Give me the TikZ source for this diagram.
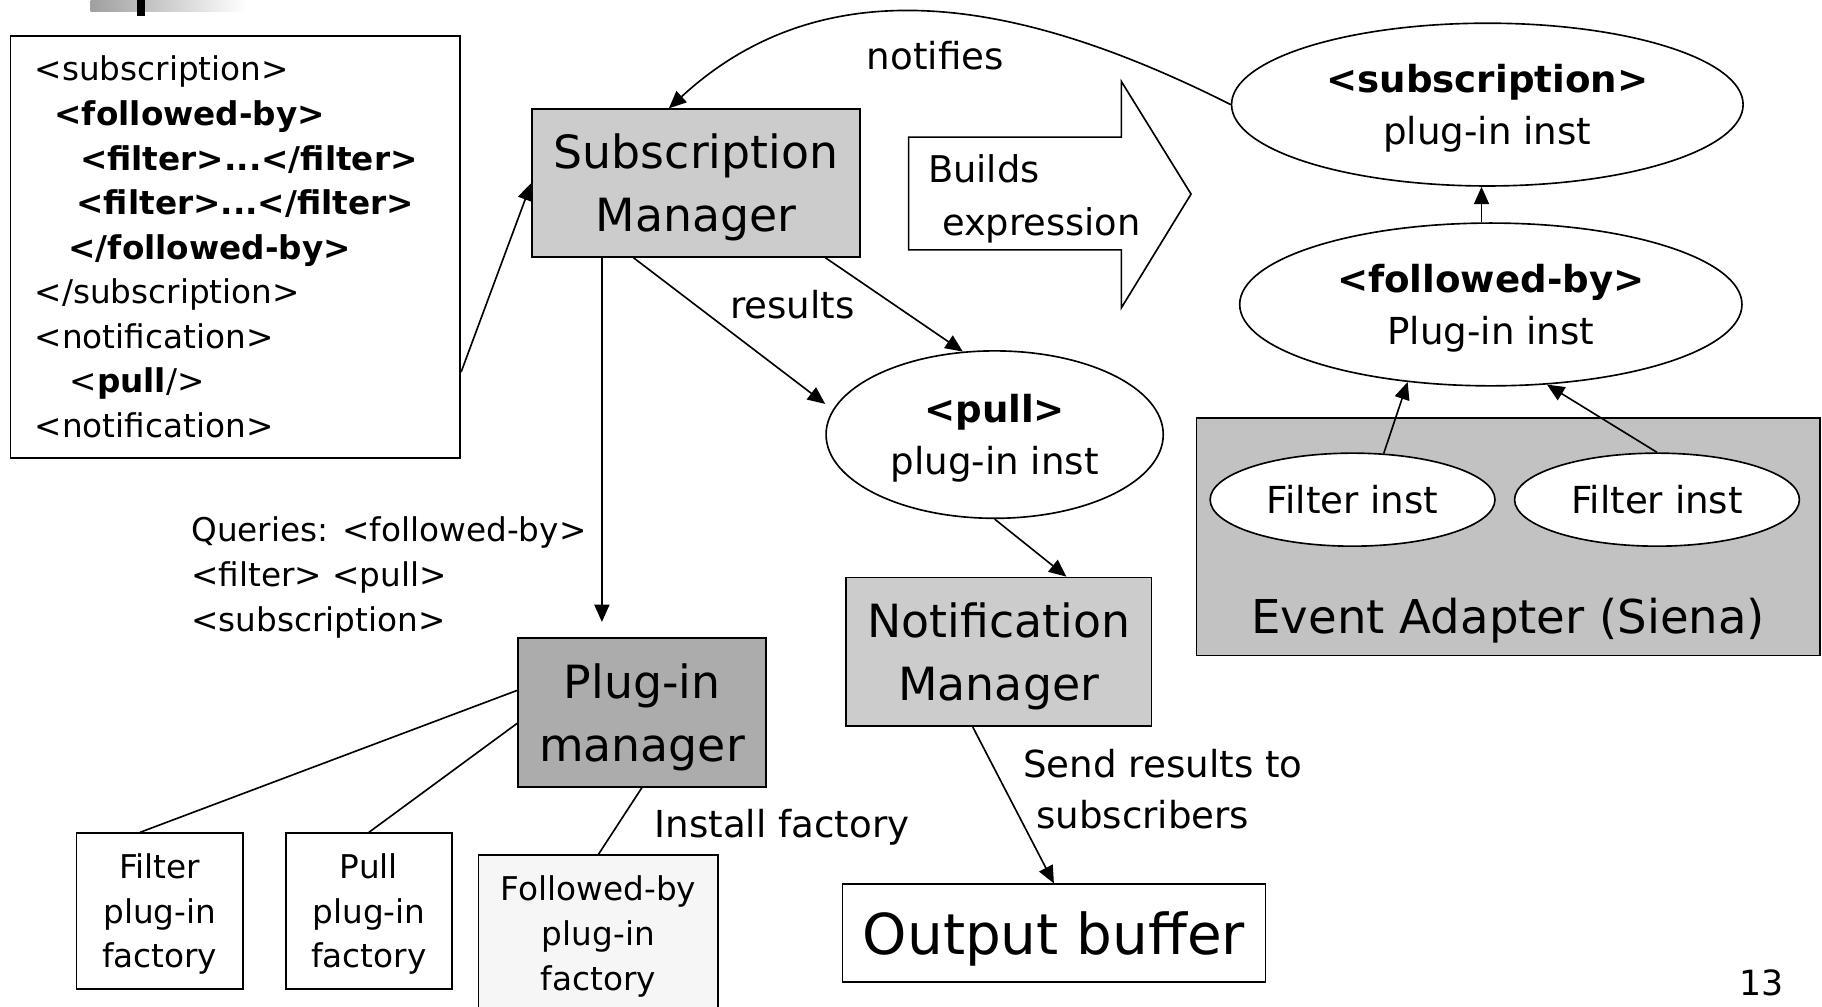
\documentclass[tikz,border=0pt]{standalone}
\usepackage{fontspec}
\setmainfont{DejaVu Sans}
\usetikzlibrary{shapes.geometric,arrows.meta,positioning}
\definecolor{mgrgray}{RGB}{204,204,204}
\definecolor{pmgray}{RGB}{172,172,172}
\definecolor{eagray}{RGB}{194,194,194}
\definecolor{factgray}{RGB}{246,246,246}
\newcommand{\hugetxt}{\fontsize{13.8}{16}\selectfont}
\newcommand{\bigtxt}{\fontsize{11.2}{15.4}\selectfont}
\newcommand{\midtxt}{\fontsize{9.1}{12.6}\selectfont}
\newcommand{\smalltxt}{\fontsize{8}{10.9}\selectfont}

\begin{document}
\begin{tikzpicture}[x=0.01cm, y=-0.01cm, line width=0.4pt,
  >={Triangle[length=0.15cm,width=0.13cm]},
  every node/.style={font=\midtxt},
  mgrbox/.style={draw, rectangle, inner sep=0pt, text depth=0pt, align=center, font=\bigtxt},
  factbox/.style={draw, rectangle, inner sep=0pt, text depth=0pt, align=center, font=\smalltxt, minimum width=1.43cm, minimum height=1.34cm},
  inst/.style={draw, ellipse, inner sep=0pt, text depth=0pt, align=center, fill=white},
  lefttxt/.style={anchor=west, align=left, inner sep=0pt}]
\useasboundingbox[fill=white] (0,0) rectangle (1568,866);

% slide title remnant
\shade[left color=gray!75, right color=white] (78,0) rectangle (212,10);
\fill[black] (118,0) rectangle (125,14);

% subscription text
\node[draw, rectangle, inner xsep=0.21cm, inner ysep=0pt, text width=3.45cm, minimum height=3.63cm, align=left, font=\smalltxt] (xml) at (202.5,212.5) {%
<subscription>\\
\hspace*{0.17cm}\textbf{<followed-by>}\\
\hspace*{0.39cm}\textbf{<filter>...</filter>}\\
\hspace*{0.36cm}\textbf{<filter>...</filter>}\\
\hspace*{0.29cm}\textbf{</followed-by>}\\
</subscription>\\
<notification>\\
\hspace*{0.30cm}<\textbf{pull}/>\\
<notification>};

% managers
\node[mgrbox, fill=mgrgray, minimum width=2.82cm, minimum height=1.27cm] (sm) at (599,157.5) {Subscription\\Manager};
\node[mgrbox, fill=pmgray, minimum width=2.13cm, minimum height=1.28cm] (pm) at (552.5,613) {Plug-in\\manager};
\node[mgrbox, fill=mgrgray, minimum width=2.63cm, minimum height=1.28cm] (nm) at (859.5,561) {Notification\\Manager};
\node[draw, rectangle, inner sep=0pt, text depth=0pt, font=\hugetxt, minimum width=3.64cm, minimum height=0.84cm] (ob) at (907,803) {Output buffer};

% factories
\node[factbox] (ff) at (137.5,784) {Filter\\plug-in\\factory};
\node[factbox] (pf) at (317.5,784) {Pull\\plug-in\\factory};
\node[factbox, fill=factgray, minimum width=2.06cm] (fbf) at (515,803) {Followed-by\\plug-in\\factory};

% builds expression
\draw[fill=white] (782,118) -- (965,118) -- (965,70) -- (1025,167) -- (965,265) -- (965,215) -- (782,215) -- cycle;
\node[lefttxt, font=\fontsize{9}{12.8}\selectfont] (bld) at (798,171) {Builds\\\hspace*{0.12cm}expression};

% event adapter and plug-in instances
\node[draw, rectangle, fill=eagray, minimum width=5.36cm, minimum height=2.04cm] (ea) at (1298,462) {};
\node[text depth=0pt, font=\fontsize{11.4}{14}\selectfont] (eatxt) at (1298,530) {Event Adapter (Siena)};
\node[inst, minimum width=2.45cm, minimum height=0.8cm] (fa) at (1164,430) {Filter inst};
\node[inst, minimum width=2.45cm, minimum height=0.8cm] (fb) at (1426,430) {Filter inst};
\node[inst, minimum width=4.32cm, minimum height=1.4cm] (fbi) at (1283,262) {\textbf{<followed-by>}\\Plug-in inst};
\node[inst, minimum width=4.4cm, minimum height=1.4cm] (subi) at (1280,90) {\textbf{<subscription>}\\plug-in inst};
\node[inst, minimum width=2.9cm, minimum height=1.44cm] (pulli) at (856,374) {\textbf{<pull>}\\plug-in inst};

% connectors
\draw[->] (xml.331) -- (sm.west);
\draw[->] (subi.west) .. controls (900,10) and (720,-40) .. (sm.110);
\node (ntf) at (805,48) {notifies};
\draw[->] ([xshift=-0.08cm]fbi.north) -- ([xshift=-0.08cm]fbi.north |- subi.south);
\draw[->] (fa.56) -- (fbi.223);
\draw[->] (fb.north) -- (fbi.305);
\draw[->] (sm.230) -- ([xshift=-0.1cm]pulli.169);
\draw[->] (sm.330) -- (pulli.111);
\node (res) at (682,262) {results};
\coordinate (qx) at (518,0);
\draw[->] (sm.south -| qx) -- (qx |- pm.north) [shorten >=0.13cm];
\node[lefttxt, font=\smalltxt] (qry) at (164,497) {Queries: <followed-by>\\<filter> <pull>\\<subscription>};
\draw[->] (pulli.south) -- (nm.48);
\draw (pm.170) -- (ff.104);
\draw (pm.185) -- (pf.north);
\draw (pm.south) -- (fbf.north);
\node (inst) at (673,712) {Install factory};
\draw[->] (nm.251) -- (ob.north);
\node[lefttxt] (snd) at (880,679) {Send results to\\\hspace*{0.11cm}subscribers};
\node[font=\fontsize{8.5}{10}\selectfont] (pg) at (1516,846) {13};
\end{tikzpicture}
\end{document}
